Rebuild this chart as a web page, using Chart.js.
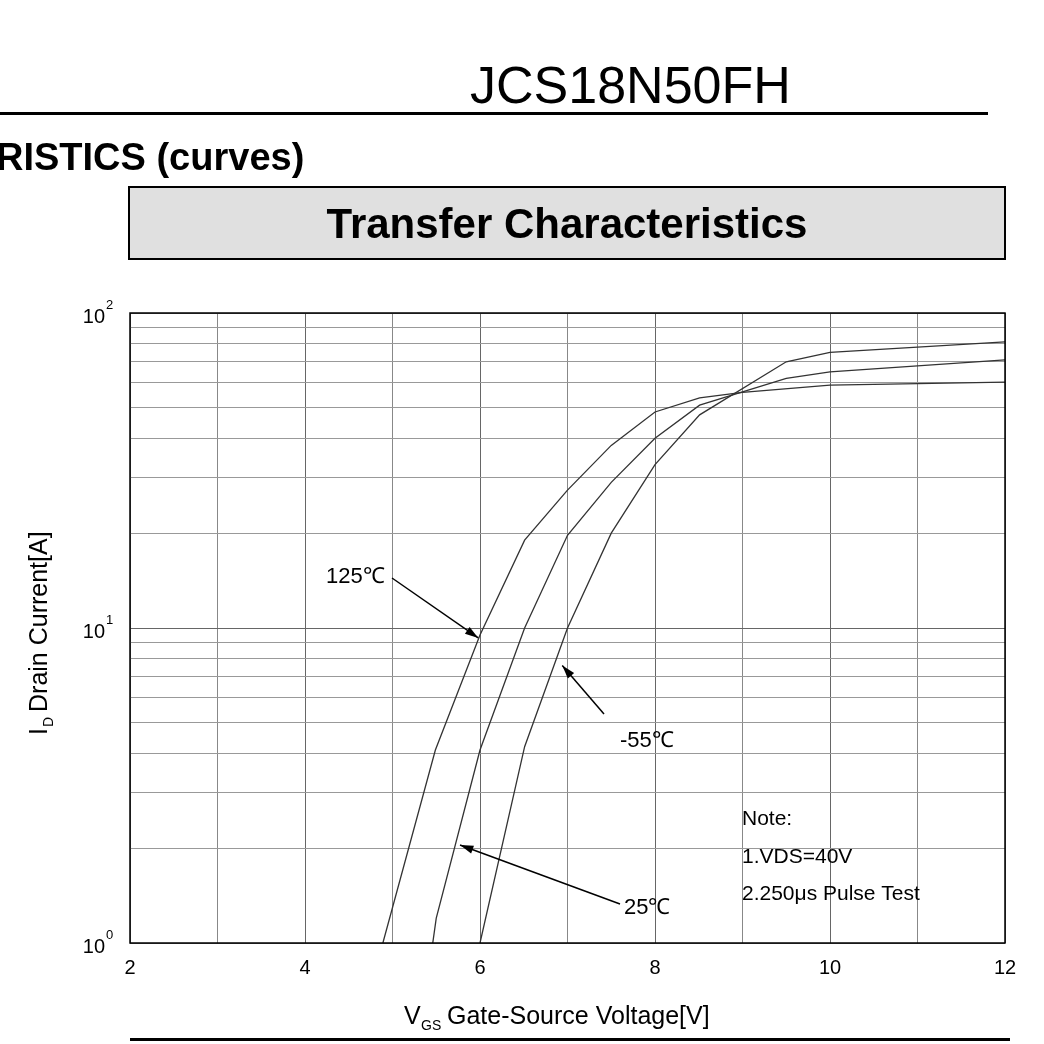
<!DOCTYPE html>
<html><head><meta charset="utf-8">
<script src="https://cdn.jsdelivr.net/npm/chart.js@4"></script>
<style>body{margin:0;background:#fff}canvas{display:block}</style>
</head><body>
<div style="width:1044px;height:1044px"><canvas id="c"></canvas></div>
<script>
// Transfer characteristics
const vgs125 = [4.89, 5.49, 6.0, 6.51, 7.0, 7.5, 8.0, 8.51, 9.0, 10.0, 12.0]
const id125  = [1.0, 4.1, 9.5, 19, 27.4, 38, 48.5, 53.8, 56, 59, 60.3]
const vgs25  = [5.46, 5.5, 6.0, 6.51, 7.0, 7.5, 8.0, 8.51, 9.5, 10.0, 12.0]
const id25   = [1.0, 1.2, 4.1, 10, 19.7, 29, 40, 51, 62, 65, 71]
const vgsM55 = [6.0, 6.51, 7.0, 7.5, 8.0, 8.51, 9.5, 10.0, 12.0]
const idM55  = [1.0, 4.2, 10, 20, 33, 47.5, 70, 75, 81]
const xTicks = [2, 4, 6, 8, 10, 12]
const yTicks = [1, 10, 100]

const pts = (xs, ys) => xs.map((x, i) => ({ x: x, y: ys[i] }))
const F = 'Arial, "Liberation Sans", sans-serif'

const decor = {
  id: 'decor',
  afterDraw(chart) {
    const ctx = chart.ctx, a = chart.chartArea
    const xs = chart.scales.x, ys = chart.scales.y
    ctx.save()
    // header
    ctx.fillStyle = '#000'
    ctx.font = '52px ' + F
    ctx.textAlign = 'left'; ctx.textBaseline = 'alphabetic'
    ctx.fillText('JCS18N50FH', 470, 103)
    ctx.fillRect(0, 112, 988, 3)
    ctx.font = 'bold 38px ' + F
    ctx.fillText('RISTICS (curves)', -4, 170)
    ctx.fillStyle = '#e0e0e0'; ctx.fillRect(129, 187, 876, 72)
    ctx.strokeStyle = '#000'; ctx.lineWidth = 2; ctx.strokeRect(129, 187, 876, 72)
    ctx.fillStyle = '#000'; ctx.font = 'bold 42px ' + F; ctx.textAlign = 'center'
    ctx.fillText('Transfer Characteristics', 567, 238)
    ctx.fillRect(130, 1038, 880, 3)
    // frame
    ctx.lineWidth = 1.5; ctx.strokeRect(a.left, a.top, a.right - a.left, a.bottom - a.top)
    // x tick labels
    ctx.font = '20px ' + F; ctx.textBaseline = 'top'
    xTicks.forEach(v => ctx.fillText(String(v), xs.getPixelForValue(v), a.bottom + 15))
    // y tick labels 10^n
    ctx.textAlign = 'right'
    yTicks.forEach((v, i) => {
      const py = ys.getPixelForValue(v)
      ctx.font = '20px ' + F; ctx.textBaseline = 'middle'
      ctx.fillText('10', 105, py + 4)
      ctx.font = '13px ' + F
      ctx.textAlign = 'left'; ctx.fillText(String(i), 106, py - 8); ctx.textAlign = 'right'
    })
    // axis titles
    ctx.textAlign = 'left'; ctx.textBaseline = 'alphabetic'
    ctx.font = '25px ' + F; ctx.fillText('V', 404, 1024)
    ctx.font = '14px ' + F; ctx.fillText('GS', 421, 1030)
    ctx.font = '25px ' + F; ctx.fillText('Gate-Source Voltage[V]', 447, 1024)
    ctx.save(); ctx.translate(47, 628); ctx.rotate(-Math.PI / 2)
    ctx.textAlign = 'left'
    ctx.font = '25px ' + F; ctx.fillText('I', -107, 0)
    ctx.font = '14px ' + F; ctx.fillText('D', -99, 6)
    ctx.font = '25px ' + F; ctx.fillText('Drain Current[A]', -84, 0)
    ctx.restore()
    // curve labels and arrows
    const arrow = (x1, y1, x2, y2) => {
      ctx.beginPath(); ctx.moveTo(x1, y1); ctx.lineTo(x2, y2); ctx.lineWidth = 1.5; ctx.stroke()
      const ang = Math.atan2(y2 - y1, x2 - x1), L = 14
      ctx.beginPath(); ctx.moveTo(x2, y2)
      ctx.lineTo(x2 - L * Math.cos(ang - 0.3), y2 - L * Math.sin(ang - 0.3))
      ctx.lineTo(x2 - L * Math.cos(ang + 0.3), y2 - L * Math.sin(ang + 0.3))
      ctx.closePath(); ctx.fill()
    }
    ctx.font = '22px ' + F; ctx.textBaseline = 'middle'
    ctx.fillText('125℃', 326, 577)
    arrow(392, 578, xs.getPixelForValue(5.98), ys.getPixelForValue(9.3))
    ctx.fillText('-55℃', 620, 741)
    arrow(604, 714, xs.getPixelForValue(6.94), ys.getPixelForValue(7.6))
    ctx.fillText('25℃', 624, 908)
    arrow(620, 904, 460, 845)
    ctx.font = '21px ' + F
    ctx.fillText('Note:', 742, 819)
    ctx.fillText('1.VDS=40V', 742, 857)
    ctx.fillText('2.250μs Pulse Test', 742, 894)
    ctx.restore()
  }
}

const line = (d) => ({ data: d, borderColor: '#333', borderWidth: 1.3, pointRadius: 0, tension: 0, fill: false })

new Chart(document.getElementById('c'), {
  type: 'scatter',
  data: { datasets: [line(pts(vgs125, id125)), line(pts(vgs25, id25)), line(pts(vgsM55, idM55))] },
  options: {
    responsive: true, maintainAspectRatio: false, animation: false, showLine: true,
    layout: { padding: { left: 130, top: 313, right: 39, bottom: 101 } },
    plugins: { legend: { display: false }, tooltip: { enabled: false } },
    scales: {
      x: {
        type: 'linear', min: 2, max: 12,
        ticks: { display: false, stepSize: 1 },
        border: { display: false },
        grid: {
          color: c => c.tick.value % 2 === 0 ? '#666' : '#888',
          lineWidth: 1,
          tickBorderDash: [2, 2],
          drawTicks: false
        }
      },
      y: {
        type: 'logarithmic', min: 1, max: 100,
        ticks: { display: false, autoSkip: false },
        afterBuildTicks: s => {
          const t = []
          for (let d = 1; d <= 10; d *= 10) for (let m = 1; m < 10; m++) t.push({ value: d * m })
          t.push({ value: 100 })
          s.ticks = t
        },
        border: { display: false },
        grid: {
          color: c => [1, 10, 100].includes(c.tick.value) ? '#666' : '#999',
          lineWidth: 1,
          drawTicks: false
        }
      }
    }
  },
  plugins: [decor]
})
</script>
</body></html>
